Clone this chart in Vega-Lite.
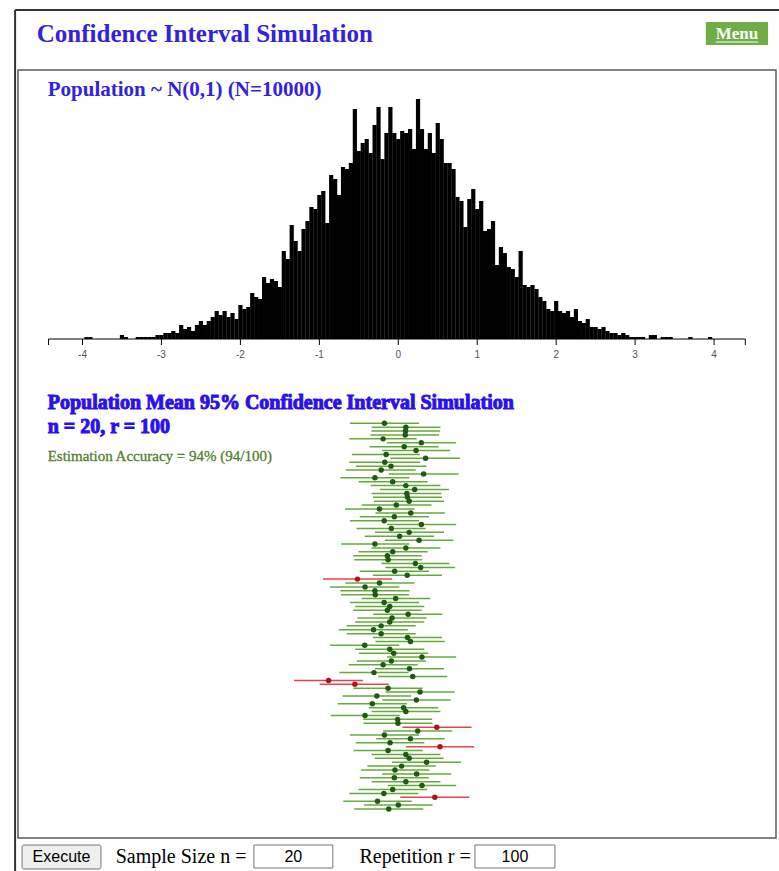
{
"$schema": "https://vega.github.io/schema/vega-lite/v6.json",
"width": 758, "height": 768,
"autosize": {"type": "none"},
"padding": {"left": 18, "top": 70, "right": 3, "bottom": 33},
"background": "white",
"config": {"view": {"stroke": "#5a5a5a", "strokeWidth": 1.5}},
"datasets": {
"hist": [
{"x":-3.95,"count":1},{"x":-3.9,"count":1},{"x":-3.5,"count":2},{"x":-3.45,"count":1},{"x":-3.3,"count":1},{"x":-3.25,"count":1},{"x":-3.2,"count":1},{"x":-3.15,"count":1},{"x":-3.1,"count":1},{"x":-3.05,"count":2},{"x":-3,"count":2},{"x":-2.95,"count":3},{"x":-2.9,"count":3},{"x":-2.85,"count":4},{"x":-2.8,"count":3},{"x":-2.75,"count":7},{"x":-2.7,"count":5},{"x":-2.65,"count":6},{"x":-2.6,"count":4},{"x":-2.55,"count":7},{"x":-2.5,"count":9},{"x":-2.45,"count":7},{"x":-2.4,"count":9},{"x":-2.35,"count":11},{"x":-2.3,"count":14},{"x":-2.25,"count":12},{"x":-2.2,"count":14},{"x":-2.15,"count":11},{"x":-2.1,"count":13},{"x":-2.05,"count":10},{"x":-2,"count":17},{"x":-1.95,"count":15},{"x":-1.9,"count":16},{"x":-1.85,"count":23},{"x":-1.8,"count":21},{"x":-1.75,"count":20},{"x":-1.7,"count":31},{"x":-1.65,"count":28},{"x":-1.6,"count":30},{"x":-1.55,"count":29},{"x":-1.5,"count":26},{"x":-1.45,"count":44},{"x":-1.4,"count":40},{"x":-1.35,"count":57},{"x":-1.3,"count":49},{"x":-1.25,"count":44},{"x":-1.2,"count":55},{"x":-1.15,"count":59},{"x":-1.1,"count":66},{"x":-1.05,"count":65},{"x":-1,"count":72},{"x":-0.95,"count":74},{"x":-0.9,"count":58},{"x":-0.85,"count":82},{"x":-0.8,"count":80},{"x":-0.75,"count":72},{"x":-0.7,"count":86},{"x":-0.65,"count":85},{"x":-0.6,"count":88},{"x":-0.55,"count":115},{"x":-0.5,"count":94},{"x":-0.45,"count":98},{"x":-0.4,"count":100},{"x":-0.35,"count":93},{"x":-0.3,"count":107},{"x":-0.25,"count":116},{"x":-0.2,"count":90},{"x":-0.15,"count":103},{"x":-0.1,"count":116},{"x":-0.05,"count":103},{"x":0,"count":100},{"x":0.05,"count":104},{"x":0.1,"count":103},{"x":0.15,"count":105},{"x":0.2,"count":95},{"x":0.25,"count":120},{"x":0.3,"count":105},{"x":0.35,"count":95},{"x":0.4,"count":103},{"x":0.45,"count":93},{"x":0.5,"count":108},{"x":0.55,"count":100},{"x":0.6,"count":88},{"x":0.65,"count":88},{"x":0.7,"count":85},{"x":0.75,"count":71},{"x":0.8,"count":69},{"x":0.85,"count":56},{"x":0.9,"count":70},{"x":0.95,"count":75},{"x":1,"count":65},{"x":1.05,"count":69},{"x":1.1,"count":54},{"x":1.15,"count":55},{"x":1.2,"count":59},{"x":1.25,"count":37},{"x":1.3,"count":46},{"x":1.35,"count":43},{"x":1.4,"count":36},{"x":1.45,"count":35},{"x":1.5,"count":31},{"x":1.55,"count":44},{"x":1.6,"count":27},{"x":1.65,"count":26},{"x":1.7,"count":27},{"x":1.75,"count":25},{"x":1.8,"count":21},{"x":1.85,"count":19},{"x":1.9,"count":15},{"x":1.95,"count":14},{"x":2,"count":19},{"x":2.05,"count":14},{"x":2.1,"count":13},{"x":2.15,"count":14},{"x":2.2,"count":11},{"x":2.25,"count":15},{"x":2.3,"count":9},{"x":2.35,"count":8},{"x":2.4,"count":10},{"x":2.45,"count":6},{"x":2.5,"count":6},{"x":2.55,"count":5},{"x":2.6,"count":6},{"x":2.65,"count":4},{"x":2.7,"count":3},{"x":2.75,"count":3},{"x":2.8,"count":2},{"x":2.85,"count":3},{"x":2.9,"count":2},{"x":2.95,"count":1},{"x":3,"count":1},{"x":3.05,"count":1},{"x":3.1,"count":1},{"x":3.2,"count":2},{"x":3.25,"count":2},{"x":3.35,"count":1},{"x":3.4,"count":1},{"x":3.45,"count":1},{"x":3.7,"count":1},{"x":3.95,"count":1}
],
"ticks": [
{"t":-4.43,"label":""},{"t":-4,"label":"-4"},{"t":-3,"label":"-3"},{"t":-2,"label":"-2"},{"t":-1,"label":"-1"},{"t":0,"label":"0"},{"t":1,"label":"1"},{"t":2,"label":"2"},{"t":3,"label":"3"},{"t":4,"label":"4"},{"t":4.396,"label":""}
],
"ci": [
{"r":1,"mean":-0.175,"lo":-0.613,"hi":0.263,"covers":"yes"},
{"r":2,"mean":0.096,"lo":-0.338,"hi":0.533,"covers":"yes"},
{"r":3,"mean":0.092,"lo":-0.342,"hi":0.529,"covers":"yes"},
{"r":4,"mean":0.088,"lo":-0.35,"hi":0.517,"covers":"yes"},
{"r":5,"mean":-0.192,"lo":-0.621,"hi":0.233,"covers":"yes"},
{"r":6,"mean":0.292,"lo":-0.142,"hi":0.733,"covers":"yes"},
{"r":7,"mean":0.075,"lo":-0.363,"hi":0.513,"covers":"yes"},
{"r":8,"mean":0.225,"lo":-0.204,"hi":0.658,"covers":"yes"},
{"r":9,"mean":-0.154,"lo":-0.588,"hi":0.275,"covers":"yes"},
{"r":10,"mean":0.346,"lo":-0.1,"hi":0.783,"covers":"yes"},
{"r":11,"mean":-0.171,"lo":-0.621,"hi":0.275,"covers":"yes"},
{"r":12,"mean":-0.092,"lo":-0.538,"hi":0.358,"covers":"yes"},
{"r":13,"mean":-0.217,"lo":-0.663,"hi":0.221,"covers":"yes"},
{"r":14,"mean":0.321,"lo":-0.121,"hi":0.763,"covers":"yes"},
{"r":15,"mean":-0.296,"lo":-0.733,"hi":0.142,"covers":"yes"},
{"r":16,"mean":-0.071,"lo":-0.504,"hi":0.371,"covers":"yes"},
{"r":17,"mean":0.096,"lo":-0.35,"hi":0.533,"covers":"yes"},
{"r":18,"mean":0.208,"lo":-0.233,"hi":0.642,"covers":"yes"},
{"r":19,"mean":0.108,"lo":-0.338,"hi":0.546,"covers":"yes"},
{"r":20,"mean":0.117,"lo":-0.321,"hi":0.554,"covers":"yes"},
{"r":21,"mean":0.138,"lo":-0.308,"hi":0.579,"covers":"yes"},
{"r":22,"mean":-0.025,"lo":-0.463,"hi":0.421,"covers":"yes"},
{"r":23,"mean":-0.238,"lo":-0.675,"hi":0.204,"covers":"yes"},
{"r":24,"mean":0.158,"lo":-0.288,"hi":0.588,"covers":"yes"},
{"r":25,"mean":-0.05,"lo":-0.488,"hi":0.388,"covers":"yes"},
{"r":26,"mean":-0.179,"lo":-0.613,"hi":0.263,"covers":"yes"},
{"r":27,"mean":0.292,"lo":-0.142,"hi":0.733,"covers":"yes"},
{"r":28,"mean":-0.088,"lo":-0.529,"hi":0.346,"covers":"yes"},
{"r":29,"mean":0.138,"lo":-0.296,"hi":0.579,"covers":"yes"},
{"r":30,"mean":0.017,"lo":-0.425,"hi":0.454,"covers":"yes"},
{"r":31,"mean":0.263,"lo":-0.171,"hi":0.7,"covers":"yes"},
{"r":32,"mean":-0.296,"lo":-0.725,"hi":0.138,"covers":"yes"},
{"r":33,"mean":0.096,"lo":-0.338,"hi":0.533,"covers":"yes"},
{"r":34,"mean":-0.071,"lo":-0.504,"hi":0.371,"covers":"yes"},
{"r":35,"mean":-0.138,"lo":-0.571,"hi":0.296,"covers":"yes"},
{"r":36,"mean":-0.129,"lo":-0.558,"hi":0.304,"covers":"yes"},
{"r":37,"mean":0.217,"lo":-0.213,"hi":0.65,"covers":"yes"},
{"r":38,"mean":0.283,"lo":-0.163,"hi":0.721,"covers":"yes"},
{"r":39,"mean":-0.046,"lo":-0.488,"hi":0.388,"covers":"yes"},
{"r":40,"mean":0.113,"lo":-0.321,"hi":0.554,"covers":"yes"},
{"r":41,"mean":-0.517,"lo":-0.954,"hi":-0.079,"covers":"no"},
{"r":42,"mean":-0.238,"lo":-0.671,"hi":0.204,"covers":"yes"},
{"r":43,"mean":-0.421,"lo":-0.863,"hi":0.013,"covers":"yes"},
{"r":44,"mean":-0.296,"lo":-0.733,"hi":0.142,"covers":"yes"},
{"r":45,"mean":-0.292,"lo":-0.725,"hi":0.138,"covers":"yes"},
{"r":46,"mean":-0.033,"lo":-0.463,"hi":0.404,"covers":"yes"},
{"r":47,"mean":-0.179,"lo":-0.613,"hi":0.263,"covers":"yes"},
{"r":48,"mean":-0.108,"lo":-0.546,"hi":0.329,"covers":"yes"},
{"r":49,"mean":-0.138,"lo":-0.571,"hi":0.296,"covers":"yes"},
{"r":50,"mean":0.125,"lo":-0.317,"hi":0.558,"covers":"yes"},
{"r":51,"mean":-0.079,"lo":-0.517,"hi":0.358,"covers":"yes"},
{"r":52,"mean":-0.108,"lo":-0.546,"hi":0.329,"covers":"yes"},
{"r":53,"mean":-0.217,"lo":-0.654,"hi":0.221,"covers":"yes"},
{"r":54,"mean":-0.313,"lo":-0.754,"hi":0.121,"covers":"yes"},
{"r":55,"mean":-0.217,"lo":-0.654,"hi":0.221,"covers":"yes"},
{"r":56,"mean":0.117,"lo":-0.321,"hi":0.554,"covers":"yes"},
{"r":57,"mean":0.154,"lo":-0.288,"hi":0.588,"covers":"yes"},
{"r":58,"mean":-0.425,"lo":-0.863,"hi":0.013,"covers":"yes"},
{"r":59,"mean":-0.108,"lo":-0.546,"hi":0.329,"covers":"yes"},
{"r":60,"mean":-0.058,"lo":-0.496,"hi":0.379,"covers":"yes"},
{"r":61,"mean":0.3,"lo":-0.142,"hi":0.733,"covers":"yes"},
{"r":62,"mean":-0.088,"lo":-0.525,"hi":0.35,"covers":"yes"},
{"r":63,"mean":-0.192,"lo":-0.629,"hi":0.246,"covers":"yes"},
{"r":64,"mean":0.142,"lo":-0.296,"hi":0.579,"covers":"yes"},
{"r":65,"mean":-0.308,"lo":-0.746,"hi":0.129,"covers":"yes"},
{"r":66,"mean":0.183,"lo":-0.254,"hi":0.621,"covers":"yes"},
{"r":67,"mean":-0.883,"lo":-1.321,"hi":-0.446,"covers":"no"},
{"r":68,"mean":-0.55,"lo":-0.996,"hi":-0.121,"covers":"no"},
{"r":69,"mean":-0.129,"lo":-0.567,"hi":0.308,"covers":"yes"},
{"r":70,"mean":0.275,"lo":-0.163,"hi":0.713,"covers":"yes"},
{"r":71,"mean":-0.271,"lo":-0.704,"hi":0.163,"covers":"yes"},
{"r":72,"mean":0.229,"lo":-0.204,"hi":0.663,"covers":"yes"},
{"r":73,"mean":-0.329,"lo":-0.767,"hi":0.108,"covers":"yes"},
{"r":74,"mean":0.067,"lo":-0.371,"hi":0.504,"covers":"yes"},
{"r":75,"mean":0.096,"lo":-0.338,"hi":0.533,"covers":"yes"},
{"r":76,"mean":-0.421,"lo":-0.858,"hi":0.017,"covers":"yes"},
{"r":77,"mean":-0.008,"lo":-0.446,"hi":0.429,"covers":"yes"},
{"r":78,"mean":-0.004,"lo":-0.442,"hi":0.433,"covers":"yes"},
{"r":79,"mean":0.488,"lo":0.054,"hi":0.929,"covers":"no"},
{"r":80,"mean":0.246,"lo":-0.192,"hi":0.683,"covers":"yes"},
{"r":81,"mean":-0.175,"lo":-0.613,"hi":0.263,"covers":"yes"},
{"r":82,"mean":0.154,"lo":-0.279,"hi":0.588,"covers":"yes"},
{"r":83,"mean":-0.104,"lo":-0.538,"hi":0.329,"covers":"yes"},
{"r":84,"mean":0.529,"lo":0.096,"hi":0.963,"covers":"no"},
{"r":85,"mean":-0.129,"lo":-0.567,"hi":0.308,"covers":"yes"},
{"r":86,"mean":0.096,"lo":-0.338,"hi":0.533,"covers":"yes"},
{"r":87,"mean":0.138,"lo":-0.296,"hi":0.575,"covers":"yes"},
{"r":88,"mean":0.358,"lo":-0.079,"hi":0.796,"covers":"yes"},
{"r":89,"mean":0.042,"lo":-0.392,"hi":0.475,"covers":"yes"},
{"r":90,"mean":-0.042,"lo":-0.475,"hi":0.392,"covers":"yes"},
{"r":91,"mean":0.233,"lo":-0.204,"hi":0.671,"covers":"yes"},
{"r":92,"mean":-0.05,"lo":-0.488,"hi":0.388,"covers":"yes"},
{"r":93,"mean":0.096,"lo":-0.338,"hi":0.533,"covers":"yes"},
{"r":94,"mean":0.3,"lo":-0.133,"hi":0.733,"covers":"yes"},
{"r":95,"mean":-0.071,"lo":-0.504,"hi":0.367,"covers":"yes"},
{"r":96,"mean":-0.183,"lo":-0.621,"hi":0.254,"covers":"yes"},
{"r":97,"mean":0.463,"lo":0.025,"hi":0.9,"covers":"no"},
{"r":98,"mean":-0.263,"lo":-0.696,"hi":0.171,"covers":"yes"},
{"r":99,"mean":0,"lo":-0.433,"hi":0.433,"covers":"yes"},
{"r":100,"mean":-0.121,"lo":-0.558,"hi":0.317,"covers":"yes"}
]
},
"resolve": {"scale": {"y": "independent"}},
"layer": [
{
"layer": [
{"data": {"name": "hist"}, "mark": {"type": "bar", "orient": "vertical", "width": 4.2, "color": "#000000"},
 "encoding": {"x": {"field": "x", "type": "quantitative", "scale": {"domain": [-4.75375, 4.72125], "nice": false, "zero": false}, "axis": null},
  "y": {"field": "count", "type": "quantitative", "scale": {"domain": [-249.5, 134.5], "nice": false, "zero": false}, "axis": null},
  "y2": {"datum": 0}}},
{"data": {"values": [{}]}, "mark": {"type": "rule", "color": "#000000", "strokeWidth": 1},
 "encoding": {"x": {"datum": -4.43, "type": "quantitative", "scale": {"domain": [-4.75375, 4.72125], "nice": false, "zero": false}, "axis": null}, "x2": {"datum": 4.396},
  "y": {"datum": 0, "type": "quantitative", "scale": {"domain": [-249.5, 134.5], "nice": false, "zero": false}, "axis": null}}},
{"data": {"name": "ticks"}, "mark": {"type": "rule", "color": "#000000", "strokeWidth": 1},
 "encoding": {"x": {"field": "t", "type": "quantitative", "scale": {"domain": [-4.75375, 4.72125], "nice": false, "zero": false}, "axis": null},
  "y": {"datum": 0, "type": "quantitative", "scale": {"domain": [-249.5, 134.5], "nice": false, "zero": false}, "axis": null}, "y2": {"datum": -3}}},
{"data": {"name": "ticks"}, "mark": {"type": "text", "font": "Liberation Sans", "fontSize": 10, "color": "#555555", "baseline": "middle", "align": "center"},
 "encoding": {"x": {"field": "t", "type": "quantitative", "scale": {"domain": [-4.75375, 4.72125], "nice": false, "zero": false}, "axis": null},
  "y": {"datum": -8, "type": "quantitative", "scale": {"domain": [-249.5, 134.5], "nice": false, "zero": false}, "axis": null},
  "text": {"field": "label"}}},
{"data": {"values": [{}]}, "mark": {"type": "text", "text": "Population ~ N(0,1) (N=10000)", "font": "Liberation Serif", "fontWeight": "bold", "fontSize": 21, "color": "#3322dd", "align": "left", "baseline": "alphabetic"},
 "encoding": {"x": {"datum": -4.441, "type": "quantitative", "scale": {"domain": [-4.75375, 4.72125], "nice": false, "zero": false}, "axis": null},
  "y": {"datum": 121.5, "type": "quantitative", "scale": {"domain": [-249.5, 134.5], "nice": false, "zero": false}, "axis": null}}},
{"data": {"values": [{}]}, "mark": {"type": "text", "text": "Population Mean 95% Confidence Interval Simulation", "font": "Liberation Serif", "fontWeight": "bold", "fontSize": 20, "color": "#2a10ee", "stroke": "#2a10ee", "strokeWidth": 1, "align": "left", "baseline": "alphabetic"},
 "encoding": {"x": {"datum": -4.441, "type": "quantitative", "scale": {"domain": [-4.75375, 4.72125], "nice": false, "zero": false}, "axis": null},
  "y": {"datum": -35, "type": "quantitative", "scale": {"domain": [-249.5, 134.5], "nice": false, "zero": false}, "axis": null}}},
{"data": {"values": [{}]}, "mark": {"type": "text", "text": "n = 20, r = 100", "font": "Liberation Serif", "fontWeight": "bold", "fontSize": 20, "color": "#2a10ee", "stroke": "#2a10ee", "strokeWidth": 1, "align": "left", "baseline": "alphabetic"},
 "encoding": {"x": {"datum": -4.441, "type": "quantitative", "scale": {"domain": [-4.75375, 4.72125], "nice": false, "zero": false}, "axis": null},
  "y": {"datum": -47, "type": "quantitative", "scale": {"domain": [-249.5, 134.5], "nice": false, "zero": false}, "axis": null}}},
{"data": {"values": [{}]}, "mark": {"type": "text", "text": "Estimation Accuracy = 94% (94/100)", "font": "Liberation Serif", "fontSize": 15, "color": "#4f7f2c", "stroke": "#4f7f2c", "strokeWidth": 0.3, "align": "left", "baseline": "alphabetic"},
 "encoding": {"x": {"datum": -4.441, "type": "quantitative", "scale": {"domain": [-4.75375, 4.72125], "nice": false, "zero": false}, "axis": null},
  "y": {"datum": -61, "type": "quantitative", "scale": {"domain": [-249.5, 134.5], "nice": false, "zero": false}, "axis": null}}},
{"data": {"values": [{}]}, "mark": {"type": "text", "text": "Confidence Interval Simulation", "font": "Liberation Serif", "fontWeight": "bold", "fontSize": 25, "color": "#3322dd", "align": "left", "baseline": "alphabetic"},
 "encoding": {"x": {"datum": -4.579, "type": "quantitative", "scale": {"domain": [-4.75375, 4.72125], "nice": false, "zero": false}, "axis": null},
  "y": {"datum": 148.5, "type": "quantitative", "scale": {"domain": [-249.5, 134.5], "nice": false, "zero": false}, "axis": null}}},
{"data": {"values": [{}]}, "mark": {"type": "rule", "color": "#333333", "strokeWidth": 2},
 "encoding": {"x": {"datum": -4.854, "type": "quantitative", "scale": {"domain": [-4.75375, 4.72125], "nice": false, "zero": false}, "axis": null}, "x2": {"datum": 5},
  "y": {"datum": 164.5, "type": "quantitative", "scale": {"domain": [-249.5, 134.5], "nice": false, "zero": false}, "axis": null}}},
{"data": {"values": [{}]}, "mark": {"type": "rule", "color": "#333333", "strokeWidth": 2},
 "encoding": {"x": {"datum": -4.854, "type": "quantitative", "scale": {"domain": [-4.75375, 4.72125], "nice": false, "zero": false}, "axis": null},
  "y": {"datum": 164.5, "type": "quantitative", "scale": {"domain": [-249.5, 134.5], "nice": false, "zero": false}, "axis": null}, "y2": {"datum": -270}}},
{"data": {"values": [{}]}, "mark": {"type": "rect", "color": "#70ad47"},
 "encoding": {"x": {"datum": 3.896, "type": "quantitative", "scale": {"domain": [-4.75375, 4.72125], "nice": false, "zero": false}, "axis": null}, "x2": {"datum": 4.684},
  "y": {"datum": 158.5, "type": "quantitative", "scale": {"domain": [-249.5, 134.5], "nice": false, "zero": false}, "axis": null}, "y2": {"datum": 147}}},
{"data": {"values": [{}]}, "mark": {"type": "text", "text": "Menu", "font": "Liberation Serif", "fontWeight": "bold", "fontSize": 17, "color": "#ffffff", "align": "center", "baseline": "middle"},
 "encoding": {"x": {"datum": 4.29, "type": "quantitative", "scale": {"domain": [-4.75375, 4.72125], "nice": false, "zero": false}, "axis": null},
  "y": {"datum": 152.75, "type": "quantitative", "scale": {"domain": [-249.5, 134.5], "nice": false, "zero": false}, "axis": null}}},
{"data": {"values": [{}]}, "mark": {"type": "rule", "color": "#ffffff", "strokeWidth": 1},
 "encoding": {"x": {"datum": 4.021, "type": "quantitative", "scale": {"domain": [-4.75375, 4.72125], "nice": false, "zero": false}, "axis": null}, "x2": {"datum": 4.559},
  "y": {"datum": 148.5, "type": "quantitative", "scale": {"domain": [-249.5, 134.5], "nice": false, "zero": false}, "axis": null}}},
{"data": {"values": [{}]}, "mark": {"type": "rect", "fill": "#efefef", "stroke": "#767676", "strokeWidth": 1, "cornerRadius": 2},
 "encoding": {"x": {"datum": -4.766, "type": "quantitative", "scale": {"domain": [-4.75375, 4.72125], "nice": false, "zero": false}, "axis": null}, "x2": {"datum": -3.766},
  "y": {"datum": -253, "type": "quantitative", "scale": {"domain": [-249.5, 134.5], "nice": false, "zero": false}, "axis": null}, "y2": {"datum": -265}}},
{"data": {"values": [{}]}, "mark": {"type": "text", "text": "Execute", "font": "Liberation Sans", "fontSize": 16, "color": "#000000", "align": "center", "baseline": "middle"},
 "encoding": {"x": {"datum": -4.266, "type": "quantitative", "scale": {"domain": [-4.75375, 4.72125], "nice": false, "zero": false}, "axis": null},
  "y": {"datum": -259, "type": "quantitative", "scale": {"domain": [-249.5, 134.5], "nice": false, "zero": false}, "axis": null}}},
{"data": {"values": [{}]}, "mark": {"type": "text", "text": "Sample Size n =", "font": "Liberation Serif", "fontSize": 20, "color": "#000000", "align": "left", "baseline": "middle"},
 "encoding": {"x": {"datum": -3.579, "type": "quantitative", "scale": {"domain": [-4.75375, 4.72125], "nice": false, "zero": false}, "axis": null},
  "y": {"datum": -259, "type": "quantitative", "scale": {"domain": [-249.5, 134.5], "nice": false, "zero": false}, "axis": null}}},
{"data": {"values": [{}]}, "mark": {"type": "rect", "fill": "#ffffff", "stroke": "#767676", "strokeWidth": 1},
 "encoding": {"x": {"datum": -1.829, "type": "quantitative", "scale": {"domain": [-4.75375, 4.72125], "nice": false, "zero": false}, "axis": null}, "x2": {"datum": -0.829},
  "y": {"datum": -253, "type": "quantitative", "scale": {"domain": [-249.5, 134.5], "nice": false, "zero": false}, "axis": null}, "y2": {"datum": -264.5}}},
{"data": {"values": [{}]}, "mark": {"type": "text", "text": "20", "font": "Liberation Sans", "fontSize": 16, "color": "#000000", "align": "center", "baseline": "middle"},
 "encoding": {"x": {"datum": -1.329, "type": "quantitative", "scale": {"domain": [-4.75375, 4.72125], "nice": false, "zero": false}, "axis": null},
  "y": {"datum": -259, "type": "quantitative", "scale": {"domain": [-249.5, 134.5], "nice": false, "zero": false}, "axis": null}}},
{"data": {"values": [{}]}, "mark": {"type": "text", "text": "Repetition r =", "font": "Liberation Serif", "fontSize": 20, "color": "#000000", "align": "left", "baseline": "middle"},
 "encoding": {"x": {"datum": -0.491, "type": "quantitative", "scale": {"domain": [-4.75375, 4.72125], "nice": false, "zero": false}, "axis": null},
  "y": {"datum": -259, "type": "quantitative", "scale": {"domain": [-249.5, 134.5], "nice": false, "zero": false}, "axis": null}}},
{"data": {"values": [{}]}, "mark": {"type": "rect", "fill": "#ffffff", "stroke": "#767676", "strokeWidth": 1},
 "encoding": {"x": {"datum": 0.971, "type": "quantitative", "scale": {"domain": [-4.75375, 4.72125], "nice": false, "zero": false}, "axis": null}, "x2": {"datum": 1.984},
  "y": {"datum": -253, "type": "quantitative", "scale": {"domain": [-249.5, 134.5], "nice": false, "zero": false}, "axis": null}, "y2": {"datum": -264.5}}},
{"data": {"values": [{}]}, "mark": {"type": "text", "text": "100", "font": "Liberation Sans", "fontSize": 16, "color": "#000000", "align": "center", "baseline": "middle"},
 "encoding": {"x": {"datum": 1.4775, "type": "quantitative", "scale": {"domain": [-4.75375, 4.72125], "nice": false, "zero": false}, "axis": null},
  "y": {"datum": -259, "type": "quantitative", "scale": {"domain": [-249.5, 134.5], "nice": false, "zero": false}, "axis": null}}}
]
},
{
"data": {"name": "ci"},
"layer": [
{"mark": {"type": "rule", "strokeWidth": 1.5},
 "encoding": {"x": {"field": "lo", "type": "quantitative", "scale": {"domain": [-4.75375, 4.72125], "nice": false, "zero": false}, "axis": null}, "x2": {"field": "hi"},
  "y": {"field": "r", "type": "quantitative", "scale": {"domain": [-89.68, 107.45], "nice": false, "zero": false, "reverse": true}, "axis": null},
  "color": {"condition": {"test": "datum.covers === 'no'", "value": "#e4464f"}, "value": "#66aa3c"}}},
{"mark": {"type": "point", "filled": true, "size": 30, "opacity": 1},
 "encoding": {"x": {"field": "mean", "type": "quantitative", "scale": {"domain": [-4.75375, 4.72125], "nice": false, "zero": false}, "axis": null},
  "y": {"field": "r", "type": "quantitative", "scale": {"domain": [-89.68, 107.45], "nice": false, "zero": false, "reverse": true}, "axis": null},
  "color": {"condition": {"test": "datum.covers === 'no'", "value": "#b0141a"}, "value": "#1e5a12"}}}
]
}
]
}
